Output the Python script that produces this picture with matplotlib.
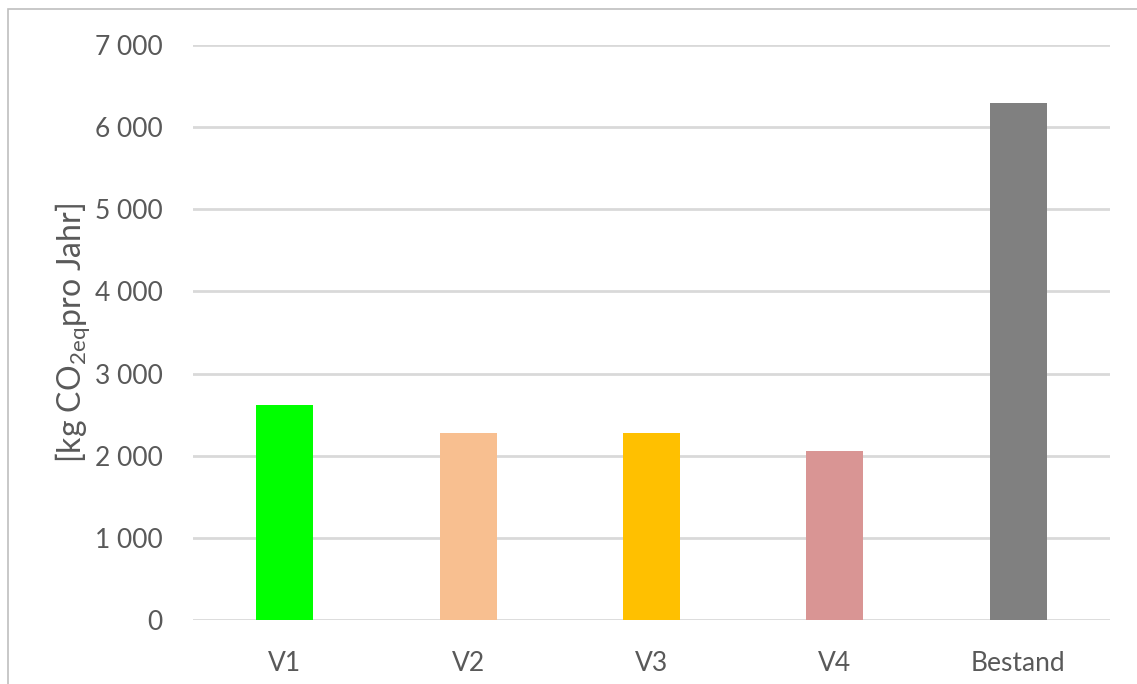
import matplotlib.pyplot as plt
from matplotlib.patches import Rectangle
from matplotlib.ticker import FuncFormatter

categories = ["V1", "V2", "V3", "V4", "Bestand"]
values = [2620, 2280, 2280, 2060, 6290]
colors = ["#00FF00", "#F8BF90", "#FFC000", "#D99594", "#808080"]
y_ticks = [0, 1000, 2000, 3000, 4000, 5000, 6000, 7000]

TEXT = "#595959"
plt.rcParams["font.family"] = ["Lato", "DejaVu Sans"]
plt.rcParams["mathtext.fontset"] = "custom"
plt.rcParams["mathtext.rm"] = "Lato"

fig = plt.figure(figsize=(11.37, 6.84), dpi=100)
ax = fig.add_axes([193 / 1137, 64 / 684, 917 / 1137, 575 / 684])

# outer frame of the chart area
fig.patches.append(Rectangle((8 / 1137, -0.1), 1.2, 1.1 - 9 / 684,
                             transform=fig.transFigure, fill=False,
                             edgecolor="#BFBFBF", linewidth=1.2))

x = range(len(categories))
ax.bar(x, values, width=0.31, color=colors, zorder=3)

ax.set_xlim(-0.5, len(categories) - 0.5)
ax.set_ylim(0, 7000)
ax.set_yticks(y_ticks)
ax.yaxis.set_major_formatter(FuncFormatter(lambda v, p: f"{int(v):,}".replace(",", " ")))
ax.set_xticks(list(x))
ax.set_xticklabels(categories)

ax.grid(axis="y", color="#D9D9D9", linewidth=2, zorder=0)
ax.set_axisbelow(True)
for s in ax.spines.values():
    s.set_visible(False)
ax.tick_params(axis="both", length=0, labelsize=19, colors=TEXT)
ax.tick_params(axis="y", pad=22)
ax.tick_params(axis="x", pad=22)

ax.set_ylabel(r"[kg CO$_{\mathrm{2eq}}$pro Jahr]", fontsize=23, color=TEXT)
ax.yaxis.set_label_coords(-100 / 917, 0.5)

fig.savefig("out.png", dpi=100)
